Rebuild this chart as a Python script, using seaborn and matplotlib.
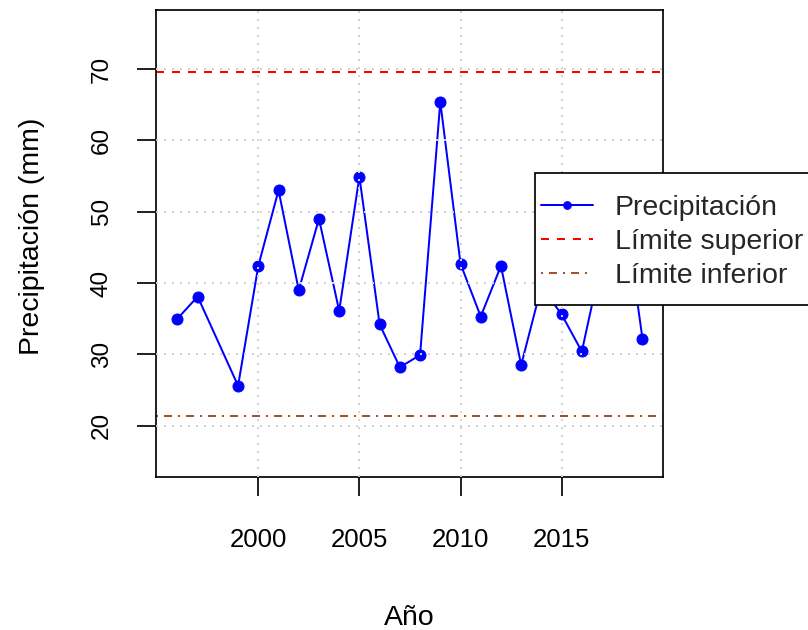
import matplotlib
matplotlib.use("Agg")
import matplotlib.pyplot as plt
from matplotlib.patches import Rectangle
import seaborn as sns
import pandas as pd

# Annual precipitation series (1998 has no record)
years = [1996, 1997, 1999, 2000, 2001, 2002, 2003, 2004, 2005, 2006, 2007,
         2008, 2009, 2010, 2011, 2012, 2013, 2014, 2015, 2016, 2017, 2018, 2019]
precip = [35.0, 38.1, 25.6, 42.4, 53.0, 39.0, 49.0, 36.1, 54.9, 34.2, 28.2,
          29.9, 65.4, 42.7, 35.3, 42.4, 28.5, 39.5, 35.6, 30.4, 43.4, 52.5, 32.2]

upper_limit = 69.6
lower_limit = 21.4

x_ticks = [2000, 2005, 2010, 2015]
y_ticks = [20, 30, 40, 50, 60, 70]

series_label = "Precipitación"
upper_label = "Límite superior"
lower_label = "Límite inferior"

sns.set_theme(style="white")
plt.rcParams["font.family"] = ["Liberation Sans", "DejaVu Sans"]

DPI = 100
fig = plt.figure(figsize=(8.08, 6.30), dpi=DPI)
ax = fig.add_axes([156 / 808, 1 - 476.7 / 630, (662.7 - 156) / 808, (476.7 - 10) / 630])

px = 72 / DPI  # points per pixel
lw = 2 * px

df = pd.DataFrame({"Año": years, "Precipitación": precip})
sns.lineplot(data=df, x="Año", y="Precipitación", ax=ax, color="blue",
             linewidth=lw, marker="o", markersize=11 * px,
             markeredgecolor="blue", markerfacecolor="blue",
             markeredgewidth=lw * 0.5, label=series_label)
ax.axhline(upper_limit, color="red", linewidth=lw, linestyle=(0, (4, 4)),
           label=upper_label)
ax.axhline(lower_limit, color="#A0522D", linewidth=lw,
           linestyle=(0, (1, 3, 4, 3)), label=lower_label)

handles, labels = ax.get_legend_handles_labels()
if ax.get_legend() is not None:
    ax.get_legend().remove()

ax.set_xlim(1994.94, 2020.0)
ax.set_ylim(12.85, 78.27)
ax.set_xticks(x_ticks)
ax.set_yticks(y_ticks)

# dotted light-grey grid drawn over the data
ax.set_axisbelow(False)
ax.grid(True, color="#D3D3D3", linewidth=lw, linestyle=(0, (1, 3)))

for s in ax.spines.values():
    s.set_color("black")
    s.set_linewidth(1.7 * px)
    s.set_visible(True)

ax.tick_params(axis="both", direction="out", length=19 * px, width=1.7 * px,
               color="black", labelcolor="black", bottom=True, left=True)
ax.tick_params(axis="x", pad=23.5, labelsize=18.5)
ax.tick_params(axis="y", pad=17.5, labelsize=17.5, labelrotation=90)
for t in ax.get_yticklabels():
    t.set_verticalalignment("center")

ax.set_xlabel("Año", fontsize=20.5, color="black")
ax.set_ylabel("Precipitación (mm)", fontsize=20.5, color="black")
ax.xaxis.set_label_coords(0.5, -(605 - 476.7) / 466.7)
ax.yaxis.set_label_coords((45 - 156) / 506.7, (476.7 - 236) / 466.7)

# legend box sitting across the right edge of the plot
fig.patches.append(Rectangle((535 / 808, 1 - 305 / 630), 0.5, (305 - 173.3) / 630,
                             transform=fig.transFigure, facecolor="white",
                             edgecolor="black", linewidth=1.7 * px, zorder=4))
leg = fig.legend(handles, labels, loc="upper left",
                 bbox_to_anchor=(540.7 / 808, 1 - 195.3 / 630),
                 bbox_transform=fig.transFigure, frameon=False, borderpad=0,
                 borderaxespad=0, labelspacing=0.27, handlelength=1.82,
                 handletextpad=0.78, fontsize=20.5, markerscale=0.7)
leg.set_zorder(5)

fig.savefig("out.png", dpi=DPI)
